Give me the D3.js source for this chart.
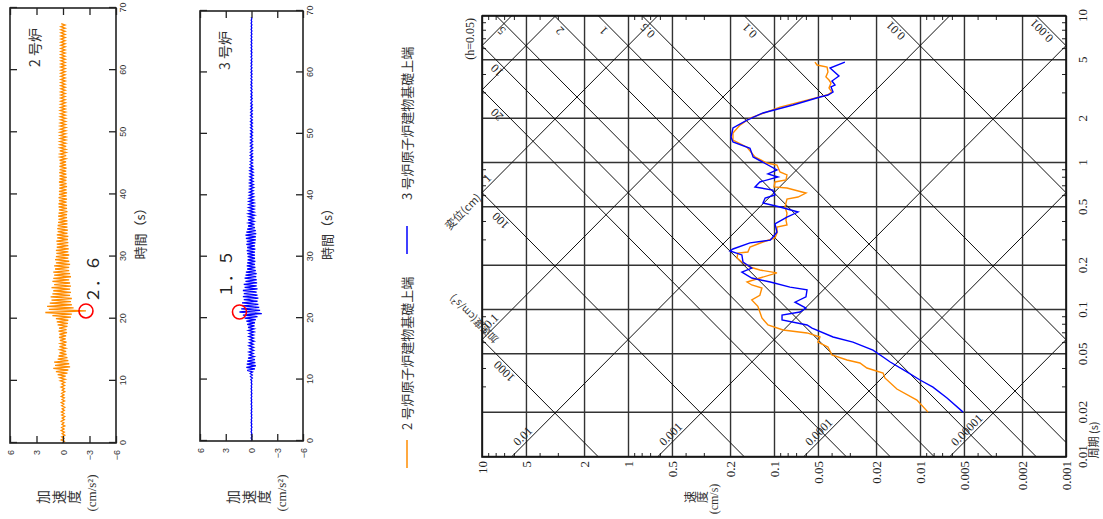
<!DOCTYPE html>
<html><head><meta charset="utf-8">
<script src="https://cdn.jsdelivr.net/npm/d3@7"></script>
<style>body{margin:0;background:#fff}svg{display:block}</style>
</head><body>
<svg id="c" width="1103" height="519"></svg>
<script>
// ---------- DATA ----------
const periodTicks = [10,5,2,1,0.5,0.2,0.1,0.05,0.02,0.01];
const velocityTicks = [10,5,2,1,0.5,0.2,0.1,0.05,0.02,0.01,0.005,0.002,0.001];
const periodMinor = [0.03,0.04,0.06,0.07,0.08,0.09,0.3,0.4,0.6,0.7,0.8,0.9,3,4,6,7,8,9];
const velocityMinor = [0.003,0.004,0.006,0.007,0.008,0.009,0.03,0.04,0.06,0.07,0.08,0.09,0.3,0.4,0.6,0.7,0.8,0.9,3,4,6,7,8,9];
const dispLines = [10,5,1,0.1,0.01,0.001,0.0001,0.00001];
const dispLabels = [1,0.1,0.01,0.001,0.0001,0.00001];
const accLines = [1000,100,20,10,5,2,1,0.5,0.1,0.01,0.001];
const accLabels = [1000,100,20,10,5,2,1,0.5,0.1,0.01,0.001];

const unit2Period = [4.86,4.64,4.50,4.16,3.85,3.67,3.50,3.24,3.04,2.90,2.68,2.40,2.02,1.81,1.60,1.43,1.28,1.10,1.00,0.969,0.869,0.829,0.766,0.743,0.687,0.676,0.635,0.625,0.587,0.569,0.502,0.457,0.409,0.379,0.367,0.334,0.309,0.290,0.268,0.248,0.244,0.226,0.212,0.196,0.187,0.179,0.165,0.155,0.148,0.141,0.126,0.117,0.106,0.0969,0.0882,0.0791,0.0731,0.0698,0.0655,0.0605,0.0560,0.0494,0.0457,0.0436,0.0403,0.0373,0.0345,0.0290,0.0244,0.0202];
const unit2Vel = [0.0524,0.0507,0.0433,0.0427,0.0441,0.0420,0.0407,0.0420,0.0401,0.0433,0.0594,0.0910,0.146,0.171,0.191,0.191,0.153,0.135,0.112,0.0954,0.0910,0.0815,0.0828,0.0985,0.100,0.0815,0.0643,0.0604,0.0685,0.0815,0.0841,0.0815,0.0828,0.0815,0.0954,0.0954,0.0985,0.119,0.146,0.151,0.177,0.179,0.166,0.146,0.125,0.0954,0.125,0.153,0.142,0.121,0.125,0.142,0.129,0.125,0.121,0.110,0.0867,0.0594,0.0484,0.0500,0.0427,0.0401,0.0316,0.0258,0.0231,0.0179,0.0174,0.0144,0.0105,0.00881];
const unit3Period = [4.86,4.43,3.91,3.61,3.39,3.29,3.04,2.90,2.81,2.48,2.19,1.96,1.73,1.50,1.39,1.26,1.10,0.969,0.896,0.842,0.803,0.743,0.687,0.655,0.606,0.578,0.535,0.502,0.464,0.429,0.385,0.339,0.309,0.299,0.286,0.260,0.252,0.237,0.212,0.193,0.181,0.165,0.155,0.143,0.137,0.123,0.113,0.103,0.0969,0.0925,0.0855,0.0791,0.0754,0.0655,0.0605,0.0534,0.0479,0.0443,0.0379,0.0334,0.0299,0.0252,0.0202];
const unit3Vel = [0.0327,0.0413,0.0359,0.0401,0.0382,0.0407,0.0394,0.0427,0.0484,0.0741,0.119,0.153,0.191,0.197,0.191,0.146,0.139,0.110,0.0954,0.110,0.0939,0.125,0.135,0.102,0.0985,0.115,0.119,0.0910,0.0685,0.0815,0.0985,0.0954,0.103,0.106,0.146,0.191,0.200,0.166,0.163,0.142,0.166,0.142,0.106,0.0777,0.0594,0.0604,0.0718,0.0604,0.0664,0.0881,0.0881,0.0594,0.0549,0.0394,0.0288,0.0210,0.0179,0.0160,0.0123,0.0100,0.00815,0.00653,0.00507];

const timeTicks = [0,10,20,30,40,50,60,70];
const accTicks = [6,3,0,-3,-6];
const sampleStep = 0.25; // s between samples below
const wave2 = [0.1,-0.15,0.2,-0.1,0.15,-0.2,0.1,-0.15,0.2,-0.12,0.15,-0.2,0.12,-0.1,0.2,-0.15,0.1,-0.2,0.15,-0.12,0.18,-0.15,0.1,-0.2,0.15,-0.1,0.2,-0.18,0.12,-0.15,0.2,-0.12,0.15,-0.2,0.1,-0.15,0.22,-0.18,0.15,-0.2,
 0.3,-0.25,0.35,-0.3,
 0.6,-0.5,0.8,-0.6,
 1.1,-0.8,0.9,-0.7,1.0,-0.6,
 0.6,-0.5,0.5,-0.4,0.4,-0.35,
 0.35,-0.3,0.4,-0.35,0.3,-0.4,0.35,-0.3,0.45,-0.35,0.4,-0.45,0.5,-0.4,0.45,-0.5,
 0.6,-0.55,0.7,-0.6,0.8,-0.9,1.2,-1.0,
 2.0,-2.6,1.6,-1.2,
 1.8,-1.0,1.5,-0.9,1.3,-1.0,1.4,-0.8,
 1.2,-0.9,1.1,-0.8,1.3,-0.9,1.0,-0.8,1.2,-0.7,1.1,-0.9,1.0,-0.8,1.1,-0.7,
 0.9,-0.7,1.0,-0.8,0.8,-0.7,0.9,-0.6,0.8,-0.7,0.75,-0.6,0.8,-0.65,0.7,-0.6,
 0.7,-0.6,0.75,-0.55,0.65,-0.6,0.7,-0.5,0.6,-0.55,0.65,-0.5,0.6,-0.5,0.55,-0.5,
 0.5,-0.45,0.55,-0.45,0.5,-0.5,0.45,-0.45,0.5,-0.45,0.5,-0.4,0.45,-0.45,0.5,-0.4,0.45,-0.45,0.45,-0.4,0.42,-0.45,0.4,-0.4,0.45,-0.38,0.4,-0.42,0.4,-0.38,0.42,-0.36,0.38,-0.4,0.4,-0.36,
 0.36,-0.34,0.38,-0.32,0.34,-0.36,0.32,-0.34,0.36,-0.32,0.34,-0.36,0.32,-0.3,0.35,-0.32,0.3,-0.34,0.32,-0.3,0.34,-0.3,0.3,-0.32,0.32,-0.28,0.3,-0.3,0.28,-0.3,0.3,-0.28,0.28,-0.3,0.3,-0.26,0.28,-0.28,0.27,-0.27,
 0.26,-0.25,0.27,-0.24,0.25,-0.26,0.27,-0.25,0.24,-0.26,0.26,-0.24,0.25,-0.26,0.24,-0.25,0.26,-0.24,0.25,-0.25,0.24,-0.26,0.26,-0.24,0.25,-0.25,0.24,-0.26,0.25,-0.24,0.26,-0.25,0.24,-0.24,0.25,-0.26,0.24,-0.25,0.25,-0.24,0.24,-0.25,0.25,-0.24,0.24,-0.24,0.25,-0.25,0.24,-0.24,0.2];
const wave3 = [0.05,-0.04,0.04,-0.05,0.03,-0.04,0.05,-0.03,0.04,-0.05,0.04,-0.04,0.05,-0.03,0.04,-0.05,0.03,-0.04,0.05,-0.04,0.04,-0.05,0.03,-0.04,0.05,-0.04,0.04,-0.03,0.05,-0.04,0.04,-0.05,0.04,-0.04,0.05,-0.03,0.04,-0.05,0.04,-0.04,
 0.08,-0.1,0.12,-0.1,0.15,-0.12,
 0.5,-0.4,0.6,-0.5,0.55,-0.45,0.5,-0.4,0.4,-0.3,
 0.25,-0.2,0.3,-0.25,0.2,-0.25,0.3,-0.2,0.25,-0.3,0.2,-0.25,0.3,-0.25,0.25,-0.3,0.35,-0.3,0.4,-0.35,
 0.5,-0.4,0.6,-0.5,0.8,-0.7,1.0,-1.2,
 1.4,-1.0,1.2,-0.9,
 1.0,-0.8,1.1,-0.7,0.9,-0.8,1.0,-0.7,
 0.9,-0.6,1.0,-0.7,0.8,-0.6,0.9,-0.65,0.7,-0.6,0.8,-0.55,0.7,-0.6,0.65,-0.5,
 0.5,-0.45,0.55,-0.4,0.5,-0.45,0.45,-0.4,
 0.45,-0.4,0.5,-0.4,0.55,-0.45,0.5,-0.4,0.6,-0.45,0.55,-0.5,0.65,-0.5,0.7,-0.55,0.6,-0.5,0.5,-0.4,
 0.4,-0.35,0.35,-0.3,0.4,-0.35,0.3,-0.35,0.35,-0.3,0.3,-0.28,0.32,-0.3,0.28,-0.3,0.3,-0.25,0.28,-0.25,
 0.25,-0.22,0.25,-0.2,0.22,-0.25,0.2,-0.22,0.22,-0.2,0.2,-0.18,0.2,-0.2,0.18,-0.2,0.2,-0.18,0.18,-0.15,
 0.15,-0.13,0.14,-0.15,0.13,-0.14,0.15,-0.12,0.14,-0.13,0.12,-0.14,0.13,-0.12,0.14,-0.13,0.12,-0.12,0.13,-0.11,0.12,-0.13,0.11,-0.12,0.12,-0.11,0.11,-0.12,0.12,-0.1,0.1,-0.11,0.11,-0.1,0.1,-0.11,0.1,-0.1,0.09,-0.1,
 0.09,-0.08,0.08,-0.09,0.08,-0.07,0.07,-0.08,0.08,-0.07,0.07,-0.07,0.08,-0.06,0.06,-0.07,0.07,-0.06,0.06,-0.07,0.07,-0.06,0.06,-0.06,0.07,-0.05,0.06,-0.06,0.05,-0.06,0.06,-0.05,0.05,-0.06,0.06,-0.05,0.05,-0.05,0.06,-0.05,0.05,-0.05,0.05,-0.04,0.05,-0.05,0.04,-0.05,0.05,-0.04,0.04,-0.05,0.05,-0.04,0.04,-0.04,0.04];
const peak2 = {t:21.25, a:-2.6, label:"２．６"};
const peak3 = {t:21.0, a:1.4, label:"１．５"};
const unitNames = ["2 号炉","3 号炉"];
const legendNames = ["2 号炉原子炉建物基礎上端","3 号炉原子炉建物基礎上端"];
const colors = ["#ff8c00","#0000ff"];

// ---------- DRAW (built in the unrotated frame, then turned 90° CCW) ----------
const svg = d3.select('#c');
const root = svg.append('g').attr('transform','translate(0,519) rotate(-90)');
const serif = "'Liberation Serif','DejaVu Serif',serif";
const cjk = "'Noto Sans CJK JP','Noto Sans',sans-serif";

// ===== time history panels =====
function panel(cfg){
  const g = root.append('g');
  const x = d3.scaleLinear().domain([0,70]).range(cfg.xr);
  const y = d3.scaleLinear().domain([-6,6]).range(cfg.yr);
  const [x0,x1]=cfg.xr, [y1,y0]=cfg.yr;
  g.append('path').datum(cfg.wave)
    .attr('d', d3.line().x((d,i)=>x(i*sampleStep)).y(d=>y(d)))
    .attr('fill','none').attr('stroke',cfg.color).attr('stroke-width',1.3).attr('stroke-linejoin','miter');
  const ab = g.append('g').attr('transform',`translate(0,${y1})`)
    .call(d3.axisBottom(x).tickValues(timeTicks).tickSizeInner(-7).tickSizeOuter(0).tickPadding(4).tickFormat(d3.format('d')));
  const at = g.append('g').attr('transform',`translate(0,${y0})`)
    .call(d3.axisTop(x).tickValues(timeTicks).tickSizeInner(-7).tickSizeOuter(0).tickFormat(''));
  const al = g.append('g').attr('transform',`translate(${x0},0)`)
    .call(d3.axisLeft(y).tickValues(accTicks).tickSizeInner(-7).tickSizeOuter(0).tickPadding(7).tickFormat(d=>d<0?'−'+(-d):d));
  const ar = g.append('g').attr('transform',`translate(${x1},0)`)
    .call(d3.axisRight(y).tickValues(accTicks).tickSizeInner(-7).tickSizeOuter(0).tickFormat(''));
  [ab,at,al,ar].forEach(a=>{a.select('.domain').remove(); a.selectAll('line').attr('stroke','#222').attr('stroke-width',1.3);});
  ab.selectAll('text').attr('font-family',"'Liberation Sans',sans-serif").attr('font-size',9).attr('fill','#333');
  al.selectAll('text').attr('font-family',"'Liberation Sans',sans-serif").attr('font-size',9).attr('fill','#333').attr('dy','0.35em');
  g.append('rect').attr('x',x0).attr('y',y0).attr('width',x1-x0).attr('height',y1-y0)
    .attr('fill','none').attr('stroke','#222').attr('stroke-width',1.6);
  g.append('text').attr('x',(x0+x1)/2-5).attr('y',y1+29).attr('text-anchor','middle')
    .attr('font-family',cjk).attr('font-size',13).attr('fill','#333').text('時間（s）');
  const ly = g.append('g').attr('font-family',cjk).attr('fill','#333').attr('font-size',14);
  ['加','速','度'].forEach((c,i)=>ly.append('text').attr('x',22).attr('y',y0+38+i*15.5).attr('text-anchor','middle').text(c));
  ly.append('text').attr('x',26).attr('y',y0+86).attr('text-anchor','middle').attr('font-size',13).attr('font-family',serif).text('(cm/s²)');
  g.append('text').attr('x',cfg.nameX).attr('y',y0+30).attr('font-family',cjk).attr('font-size',14).attr('fill','#333').text(cfg.name);
  g.append('circle').attr('cx',x(cfg.peak.t)).attr('cy',y(cfg.peak.a)).attr('r',7)
    .attr('fill','none').attr('stroke','#ff0000').attr('stroke-width',1.6);
  g.append('text').attr('x',cfg.peakLabelX).attr('y',cfg.peakLabelY).attr('font-family',cjk).attr('font-size',16).attr('fill','#222').text(cfg.peak.label);
}
panel({xr:[76,511], yr:[116,10], wave:wave2, color:colors[0], name:unitNames[0], nameX:452, peak:peak2, peakLabelX:216, peakLabelY:99});
panel({xr:[78,508], yr:[303,200], wave:wave3, color:colors[1], name:unitNames[1], nameX:449, peak:peak3, peakLabelX:221, peakLabelY:232});

// ===== legend =====
const leg = root.append('g').attr('font-family',cjk).attr('font-size',13).attr('fill','#333');
[[51,79,89],[265,293,319]].forEach((p,i)=>{
  leg.append('line').attr('x1',p[0]).attr('x2',p[1]).attr('y1',407).attr('y2',407).attr('stroke',colors[i]).attr('stroke-width',1.5);
  leg.append('text').attr('x',p[2]).attr('y',412).text(legendNames[i]);
});

// ===== tripartite response spectrum =====
const xT = d3.scaleLog().domain([0.01,10]).range([62,503]);
const yV = d3.scaleLog().domain([0.001,10]).range([1066,482]);
const sp = root.append('g');
const X0=xT(0.01), X1=xT(10), Y0=yV(10), Y1=yV(0.001);
const gx = sp.append('g').attr('transform',`translate(0,${Y1})`)
  .call(d3.axisBottom(xT).tickValues(periodTicks).tickSizeInner(-(Y1-Y0)).tickSizeOuter(0).tickPadding(12).tickFormat(d=>String(d)));
const gy = sp.append('g').attr('transform',`translate(${X0},0)`)
  .call(d3.axisLeft(yV).tickValues(velocityTicks).tickSizeInner(-(X1-X0)).tickSizeOuter(0).tickPadding(4).tickFormat(d=>String(d)));
[gx,gy].forEach(a=>{a.select('.domain').remove();
  a.selectAll('line').attr('stroke','#333').attr('stroke-width',1.4);
  a.selectAll('text').attr('font-family',serif).attr('font-size',13).attr('fill','#222');});
gy.selectAll('text').attr('dy','0.35em');
const mt = sp.append('g').attr('stroke','#222').attr('stroke-width',1);
periodMinor.forEach(t=>{const xx=xT(t);
  mt.append('line').attr('x1',xx).attr('x2',xx).attr('y1',Y1).attr('y2',Y1-4);
  mt.append('line').attr('x1',xx).attr('x2',xx).attr('y1',Y0).attr('y2',Y0+4);});
velocityMinor.forEach(v=>{const yy=yV(v);
  mt.append('line').attr('y1',yy).attr('y2',yy).attr('x1',X0).attr('x2',X0+4);
  mt.append('line').attr('y1',yy).attr('y2',yy).attr('x1',X1).attr('x2',X1-4);});
const TP = 2*Math.PI;
function dispSeg(D){const t1=Math.max(0.01,TP*D/10), t2=Math.min(10,TP*D/0.001); return t1<t2?[[t1,TP*D/t1],[t2,TP*D/t2]]:null;}
function accSeg(A){const t1=Math.max(0.01,TP*0.001/A), t2=Math.min(10,TP*10/A); return t1<t2?[[t1,A*t1/TP],[t2,A*t2/TP]]:null;}
const lg = d3.line().x(d=>xT(d[0])).y(d=>yV(d[1]));
const dg = sp.append('g').attr('stroke','#111').attr('stroke-width',1).attr('fill','none');
dispLines.forEach(D=>{const s=dispSeg(D); if(s) dg.append('path').attr('d',lg(s));});
accLines.forEach(A=>{const s=accSeg(A); if(s) dg.append('path').attr('d',lg(s));});
const lab = sp.append('g').attr('font-family',serif).attr('font-size',12).attr('fill','#222');
const r2 = Math.SQRT1_2;
dispLabels.forEach(D=>{const s=dispSeg(D); const px=xT(s[0][0]), py=yV(s[0][1]);
  const txt=String(D), along=11+txt.length*2.9, off=7;
  const cx=px+r2*along+r2*off, cy=py+r2*along-r2*off;
  lab.append('text').attr('transform',`translate(${cx},${cy}) rotate(45)`).attr('text-anchor','middle').attr('dy','0.35em').text(txt);});
accLabels.forEach(A=>{const s=accSeg(A); const px=xT(s[1][0]), py=yV(s[1][1]);
  const txt=String(A), atTop = s[1][0]>=9.99, along= atTop?14:(18+txt.length*5), off=7;
  const cx=px-r2*along-r2*off, cy=py+r2*along-r2*off;
  lab.append('text').attr('transform',`translate(${cx},${cy}) rotate(-45)`).attr('text-anchor','middle').attr('dy','0.35em').text(txt);});
{const s=dispSeg(1); const px=xT(s[0][0]), py=yV(s[0][1]);
 sp.append('text').attr('transform',`translate(${px-3},${py-3}) rotate(45)`).attr('text-anchor','end').attr('dy','0.35em')
   .attr('font-family',cjk).attr('font-size',11).attr('fill','#333').text('変位(cm)');}
{const s=accSeg(1000); const px=xT(s[1][0]), py=yV(s[1][1]);
 sp.append('text').attr('transform',`translate(${px+21},${py-8}) rotate(-45)`).attr('text-anchor','middle').attr('dy','0.35em')
   .attr('font-family',cjk).attr('font-size',10).attr('fill','#333').text('加速度(cm/s²)');}
sp.append('text').attr('x',X1-2).attr('y',Y0-8).attr('text-anchor','end').attr('font-family',serif).attr('font-size',12).attr('fill','#222').text('(h=0.05)');
sp.append('rect').attr('x',X0).attr('y',Y0).attr('width',X1-X0).attr('height',Y1-Y0).attr('fill','none').attr('stroke','#111').attr('stroke-width',1.6);
sp.append('text').attr('x',79).attr('y',1098).attr('text-anchor','middle').attr('font-family',cjk).attr('font-size',11).attr('fill','#333').text('周期 (s)');
{const t=sp.append('g').attr('font-family',cjk).attr('font-size',12).attr('fill','#333');
 ['速','度'].forEach((c,i)=>t.append('text').attr('x',22).attr('y',695+i*12).attr('text-anchor','middle').text(c));
 t.append('text').attr('x',20).attr('y',718).attr('text-anchor','middle').attr('font-family',serif).text('(cm/s)');}
[[unit2Period,unit2Vel],[unit3Period,unit3Vel]].forEach((s,i)=>{
  sp.append('path').datum(d3.zip(s[0],s[1])).attr('d',lg).attr('fill','none').attr('stroke',colors[i]).attr('stroke-width',1.4);
});
</script>
</body></html>
